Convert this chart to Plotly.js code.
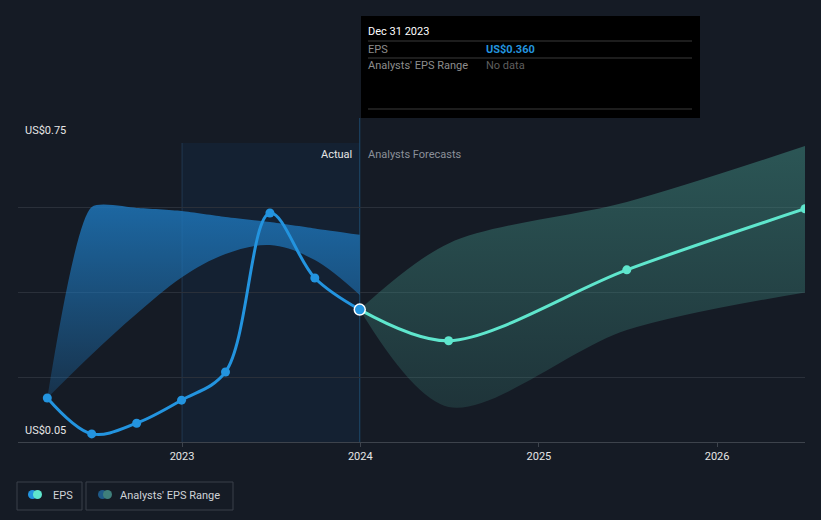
<!DOCTYPE html>
<html>
<head>
<meta charset="utf-8">
<script src="https://cdn.plot.ly/plotly-3.0.1.min.js"></script>
<style>
html,body{margin:0;padding:0;background:#151b25;}
#chart{width:821px;height:520px;}
</style>
</head>
<body>
<div id="chart"></div>
<script>
// ---- data ----
const actualDates = ['2022-03-31','2022-06-30','2022-09-30','2022-12-31','2023-03-31','2023-06-30','2023-09-30','2023-12-31'];
const actualEps = [0.153, 0.069, 0.094, 0.148, 0.214, 0.586, 0.434, 0.360];
const pastRangeHigh = [0.153, 0.600, 0.598, 0.591, 0.577, 0.565, 0.550, 0.535];
const pastRangeLow = [0.153, 0.255, 0.350, 0.435, 0.490, 0.511, 0.476, 0.394];

const forecastDates = ['2023-12-31','2024-06-30','2025-06-30','2026-06-30'];
const forecastEps = [0.360, 0.287, 0.453, 0.596];
const forecastHigh = [0.360, 0.515, 0.612, 0.743];
const forecastLow = [0.360, 0.132, 0.312, 0.400];

const xTickVals = ['2023-01-01','2024-01-01','2025-01-01','2026-01-01'];
const xTickText = ['2023','2024','2025','2026'];
const yLabels = ['US$0.75','US$0.05'];
const tooltipDate = 'Dec 31 2023';
const tooltipEps = 'US$0.360';

// ---- layout helpers (pixel -> paper) ----
const L = 18, R = 805, T = 143, B = 442;
const px = x => (x - L) / (R - L);
const py = y => (B - y) / (B - T);

const BG = '#151b25';
const BLUE = '#2394df';
const TEAL = '#5fe6cd';
const FONT = 'Roboto, "Open Sans", sans-serif';

const lastIdx = actualDates.length - 1;

const traces = [
  { x: actualDates, y: pastRangeLow, type: 'scatter', mode: 'lines',
    line: { width: 0, shape: 'spline', smoothing: 1 }, showlegend: false, hoverinfo: 'skip' },
  { x: actualDates, y: pastRangeHigh, type: 'scatter', mode: 'lines', fill: 'tonexty',
    fillcolor: 'rgba(30,120,190,0.6)',
    fillgradient: { type: 'vertical', colorscale: [[0, 'rgba(30,120,190,0.25)'], [1, 'rgba(30,120,190,0.82)']] },
    line: { width: 0, shape: 'spline', smoothing: 0.6 }, showlegend: false, hoverinfo: 'skip' },
  { x: forecastDates, y: forecastLow, type: 'scatter', mode: 'lines',
    line: { width: 0, shape: 'spline', smoothing: 0.9 }, showlegend: false, hoverinfo: 'skip' },
  { x: forecastDates, y: forecastHigh, type: 'scatter', mode: 'lines', fill: 'tonexty',
    fillcolor: 'rgba(64,140,130,0.4)',
    fillgradient: { type: 'vertical', colorscale: [[0, 'rgba(64,140,130,0.22)'], [1, 'rgba(64,140,130,0.52)']] },
    line: { width: 0, shape: 'spline', smoothing: 0.9 }, showlegend: false, hoverinfo: 'skip' },
  { x: forecastDates, y: forecastEps, type: 'scatter', mode: 'lines+markers',
    line: { color: TEAL, width: 3, shape: 'spline', smoothing: 0.9 },
    marker: { color: TEAL, opacity: 1, size: forecastDates.map((d, i) => i === 0 ? 0 : 9), line: { width: 0 } },
    showlegend: false, hoverinfo: 'skip' },
  { x: actualDates, y: actualEps, type: 'scatter', mode: 'lines+markers',
    line: { color: BLUE, width: 3, shape: 'spline', smoothing: 1 },
    marker: { color: BLUE, opacity: 1,
      size: actualDates.map((d, i) => i === lastIdx ? 11 : 9),
      line: { color: actualDates.map((d, i) => i === lastIdx ? '#ffffff' : BLUE),
              width: actualDates.map((d, i) => i === lastIdx ? 1.5 : 0) } },
    showlegend: false, hoverinfo: 'skip' }
];

const shapes = [
  // highlighted last actual year
  { type: 'rect', xref: 'x', yref: 'paper', x0: xTickVals[0], x1: actualDates[lastIdx], y0: 0, y1: 1,
    fillcolor: 'rgba(20,75,130,0.15)', line: { width: 0 }, layer: 'below' },
  { type: 'line', xref: 'x', yref: 'paper', x0: xTickVals[0], x1: xTickVals[0], y0: 0, y1: 1,
    line: { color: 'rgba(45,80,115,0.5)', width: 1 }, layer: 'below' },
  // hover line
  { type: 'line', xref: 'x', yref: 'paper', x0: actualDates[lastIdx], x1: actualDates[lastIdx],
    y0: 0, y1: py(118), line: { color: '#1d4a6e', width: 1 }, layer: 'below' },
  // tooltip
  { type: 'rect', xref: 'paper', yref: 'paper', x0: px(361), x1: px(700), y0: py(118), y1: py(16),
    fillcolor: '#000000', line: { width: 0 } },
  { type: 'line', xref: 'paper', yref: 'paper', x0: px(368), x1: px(692), y0: py(41), y1: py(41), line: { color: '#3a3a3a', width: 1 } },
  { type: 'line', xref: 'paper', yref: 'paper', x0: px(368), x1: px(692), y0: py(58), y1: py(58), line: { color: '#3a3a3a', width: 1 } },
  { type: 'line', xref: 'paper', yref: 'paper', x0: px(368), x1: px(692), y0: py(109), y1: py(109), line: { color: '#3a3a3a', width: 1 } },
  // legend boxes
  { type: 'rect', xref: 'paper', yref: 'paper', x0: px(17), x1: px(82), y0: py(510), y1: py(482),
    fillcolor: 'rgba(0,0,0,0)', line: { color: '#3a404a', width: 1 } },
  { type: 'rect', xref: 'paper', yref: 'paper', x0: px(86), x1: px(233), y0: py(510), y1: py(482),
    fillcolor: 'rgba(0,0,0,0)', line: { color: '#3a404a', width: 1 } },
  // legend icons
  { type: 'circle', xref: 'paper', yref: 'paper', x0: px(28), x1: px(37), y0: py(499), y1: py(490), fillcolor: BLUE, line: { width: 0 } },
  { type: 'circle', xref: 'paper', yref: 'paper', x0: px(33), x1: px(42), y0: py(499), y1: py(490), fillcolor: TEAL, line: { width: 0 } },
  { type: 'circle', xref: 'paper', yref: 'paper', x0: px(98), x1: px(107), y0: py(499), y1: py(490), fillcolor: '#1f5a88', line: { width: 0 } },
  { type: 'circle', xref: 'paper', yref: 'paper', x0: px(103), x1: px(112), y0: py(499), y1: py(490), fillcolor: '#3f7f7b', line: { width: 0 } }
];

// annotations carry ~2px internal padding; compensate
const ann = (x, y, text, color, anchor, size) => ({
  xref: 'paper', yref: 'paper', x: px(anchor === 'left' ? x - 2 : x + 2), y: py(y), text: text, showarrow: false,
  xanchor: anchor, yanchor: 'middle', font: { family: FONT, size: size, color: color }
});

const annotations = [
  ann(25, 130, yLabels[0], '#e6e6e6', 'left', 11),
  ann(25, 430, yLabels[1], '#e6e6e6', 'left', 11),
  ann(352, 154, 'Actual', '#e6e6e6', 'right', 11),
  ann(368, 154, 'Analysts Forecasts', '#8b9099', 'left', 11),
  ann(368, 31, tooltipDate, '#ffffff', 'left', 11),
  ann(368, 49, 'EPS', '#8d8d8d', 'left', 11),
  ann(486, 49, '<b>' + tooltipEps + '</b>', BLUE, 'left', 11),
  ann(368, 66, "Analysts' EPS Range", '#8d8d8d', 'left', 11),
  ann(486, 66, 'No data', '#5e5e5e', 'left', 11),
  ann(53, 495, 'EPS', '#cfd3d8', 'left', 11),
  ann(120, 495, "Analysts' EPS Range", '#cfd3d8', 'left', 11)
];

const layout = {
  width: 821, height: 520,
  paper_bgcolor: BG, plot_bgcolor: BG,
  margin: { l: L, r: 821 - R, t: T, b: 520 - B, pad: 0 },
  showlegend: false,
  hovermode: false,
  font: { family: FONT, size: 11, color: '#e6e6e6' },
  xaxis: {
    type: 'date', range: ['2022-01-30', '2026-06-30'],
    tickvals: xTickVals, ticktext: xTickText,
    showgrid: false, zeroline: false,
    showline: true, linecolor: '#3d434c', linewidth: 1,
    ticks: 'outside', ticklen: 4, tickcolor: '#3d434c',
    tickfont: { family: FONT, size: 11, color: '#e6e6e6' }
  },
  yaxis: {
    range: [0.05, 0.75],
    tickvals: [0.2, 0.4, 0.6, 0.75],
    showticklabels: false,
    showgrid: true, gridcolor: '#2a303a', gridwidth: 1,
    zeroline: false, showline: false, ticks: ''
  },
  shapes: shapes,
  annotations: annotations
};

Plotly.newPlot('chart', traces, layout, { displayModeBar: false, staticPlot: true });
</script>
</body>
</html>
